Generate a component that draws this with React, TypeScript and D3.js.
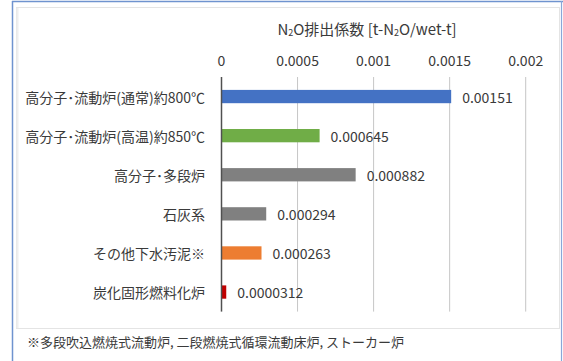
import React from "react";
import * as d3 from "d3";

const CATEGORIES = [
  "高分子･流動炉(通常)約800℃",
  "高分子･流動炉(高温)約850℃",
  "高分子･多段炉",
  "石灰系",
  "その他下水汚泥※",
  "炭化固形燃料化炉",
];
const VALUES = [0.00151, 0.000645, 0.000882, 0.000294, 0.000263, 0.0000312];
const BAR_COLORS = ["#4472c4", "#70ad47", "#808080", "#808080", "#ed7d31", "#c00000"];
const TICKS = [0, 0.0005, 0.001, 0.0015, 0.002];
const FOOTNOTE = "※多段吹込燃焼式流動炉, 二段燃焼式循環流動床炉, ストーカー炉";

const W = 563;
const H = 361;
const FONT = "'Noto Sans CJK JP', 'Noto Sans', sans-serif";
const TEXT = "#3a3a3a";

export default function App() {
  // scales
  const x = d3.scaleLinear().domain([0, 0.002]).range([221.5, 525.7]);
  const y = d3
    .scaleBand()
    .domain(CATEGORIES)
    .range([77, 311.6])
    .paddingInner(0.66)
    .paddingOuter(0.33);
  const [gTop, gBottom] = y.range();

  return (
    <div style={{ position: "fixed", left: 0, top: 0 }}>
      <svg width={W} height={H} style={{ display: "block", background: "#fff" }} fontFamily={FONT}>
        {/* outer blue frame */}
        <line x1={12.5} x2={12.5} y1={1} y2={H} stroke="#6f93cf" strokeWidth={1.5} />
        <line x1={12} x2={W} y1={1.5} y2={1.5} stroke="#6f93cf" strokeWidth={1.5} />
        <line x1={561.5} x2={561.5} y1={1} y2={H} stroke="#8aa7d8" strokeWidth={1.2} />
        {/* chart area frame */}
        <rect x={16.5} y={7.5} width={543} height={321} fill="#fff" stroke="#e4e4e4" />
        <line x1={17.5} x2={17.5} y1={8} y2={328} stroke="#eeeeee" strokeWidth={2} />

        <text x={367} y={28} textAnchor="middle" dominantBaseline="central" fontSize={15} fill={TEXT}>
          N<tspan fontSize={9} dy={4}>2</tspan>
          <tspan dy={-4}>O排出係数 [t-N</tspan>
          <tspan fontSize={9} dy={4}>2</tspan>
          <tspan dy={-4}>O/wet-t]</tspan>
        </text>

        {/* gridlines + tick labels */}
        {TICKS.map((t) => (
          <g key={t}>
            {t !== 0 && (
              <line x1={x(t)} x2={x(t)} y1={gTop} y2={gBottom} stroke="#c6c6c6" strokeWidth={1} />
            )}
            <text x={x(t)} y={60} textAnchor="middle" dominantBaseline="central" fontSize={14} fill={TEXT}>
              {String(t)}
            </text>
          </g>
        ))}

        {/* bars */}
        {CATEGORIES.map((c, i) => {
          const yc = (y(c) as number) + y.bandwidth() / 2;
          return (
            <g key={c}>
              <rect
                x={x(0)}
                y={y(c)}
                width={x(VALUES[i]) - x(0)}
                height={y.bandwidth()}
                fill={BAR_COLORS[i]}
              />
              <text x={205} y={yc} textAnchor="end" dominantBaseline="central" fontSize={14} fill={TEXT}>
                {c}
              </text>
              <text x={x(VALUES[i]) + 11} y={yc} dominantBaseline="central" fontSize={14} fill={TEXT}>
                {String(VALUES[i])}
              </text>
            </g>
          );
        })}

        {/* value axis line */}
        <line x1={x(0)} x2={x(0)} y1={gTop} y2={gBottom} stroke="#505050" strokeWidth={1.5} />

        <text x={27} y={341} dominantBaseline="central" fontSize={13} fill={TEXT}>
          {FOOTNOTE}
        </text>
      </svg>
    </div>
  );
}
